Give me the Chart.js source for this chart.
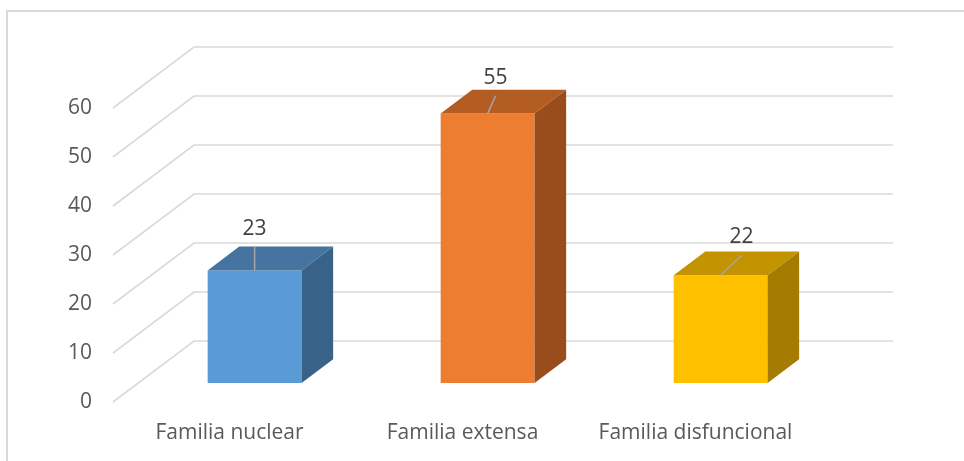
<!DOCTYPE html>
<html>
<head>
<meta charset="utf-8">
<script src="https://cdn.jsdelivr.net/npm/chart.js@4/dist/chart.umd.min.js"></script>
<style>
  html, body { margin: 0; padding: 0; background: #ffffff; }
  canvas { display: block; }
</style>
</head>
<body>
<canvas id="familyChart" width="964" height="461"></canvas>
<script>
// données du graphique
const categories = ['Familia nuclear', 'Familia extensa', 'Familia disfuncional'];
const values = [23, 55, 22];
const yTicks = [0, 10, 20, 30, 40, 50, 60];

// couleurs des faces (avant, dessus, côté)
const frontColors = ['#5B9BD5', '#ED7D31', '#FFC000'];
const topColors = ['#44749F', '#B45D22', '#C49300'];
const sideColors = ['#386287', '#994D1C', '#A67C00'];

// profondeur de la "boîte" 3D
const depth = { x: 81, y: -61 };
const barFront = 0.31;   // position avant des barres dans la profondeur
const barDepth = 0.39;   // épaisseur des barres
// décalage des étiquettes comme dans Excel [x, y]
const labelNudge = [[0, 0], [8, 6], [21, 4]];

const gridColor = '#D9D9D9';
const fontFamily = "'Open Sans', 'Noto Sans', sans-serif";

const box3d = {
    id: 'box3d',
    beforeDraw(chart) {
        const ctx = chart.ctx;
        // cadre du graphique
        ctx.save();
        ctx.strokeStyle = gridColor;
        ctx.lineWidth = 2;
        ctx.beginPath();
        ctx.moveTo(964, 11);
        ctx.lineTo(7, 11);
        ctx.lineTo(7, 461);
        ctx.stroke();
        ctx.restore();
    },
    beforeDatasetsDraw(chart) {
        const ctx = chart.ctx;
        const area = chart.chartArea;
        const y = chart.scales.y;
        ctx.save();
        ctx.strokeStyle = gridColor;
        ctx.lineWidth = 1.6;
        yTicks.forEach(v => {
            const py = y.getPixelForValue(v);
            ctx.beginPath();
            ctx.moveTo(area.left, py);
            ctx.lineTo(area.left + depth.x, py + depth.y);
            ctx.lineTo(area.right + depth.x, py + depth.y);
            ctx.stroke();
        });
        ctx.restore();
        // décaler les barres vers le milieu de la profondeur
        ctx.save();
        ctx.translate(depth.x * barFront, depth.y * barFront);
    },
    afterDatasetsDraw(chart) {
        const ctx = chart.ctx;
        const meta = chart.getDatasetMeta(0);
        const dx = depth.x * barDepth, dy = depth.y * barDepth;
        meta.data.forEach((bar, i) => {
            const l = bar.x - bar.width / 2, r = bar.x + bar.width / 2;
            const t = bar.y, b = bar.base;
            // dessus
            ctx.fillStyle = topColors[i];
            ctx.beginPath();
            ctx.moveTo(l, t);
            ctx.lineTo(l + dx, t + dy);
            ctx.lineTo(r + dx, t + dy);
            ctx.lineTo(r, t);
            ctx.closePath();
            ctx.fill();
            // côté
            ctx.fillStyle = sideColors[i];
            ctx.beginPath();
            ctx.moveTo(r, t);
            ctx.lineTo(r + dx, t + dy);
            ctx.lineTo(r + dx, b + dy);
            ctx.lineTo(r, b);
            ctx.closePath();
            ctx.fill();
        });
        ctx.restore();

        // étiquettes de données avec lignes de repère
        const ox = depth.x * barFront, oy = depth.y * barFront;
        ctx.save();
        ctx.font = '21px ' + fontFamily;
        ctx.fillStyle = '#404040';
        ctx.textAlign = 'center';
        ctx.textBaseline = 'middle';
        meta.data.forEach((bar, i) => {
            const bx = bar.x + ox, by = bar.y + oy;
            const lx = bx + labelNudge[i][0];
            const ly = by + dy - 18 + labelNudge[i][1];
            ctx.strokeStyle = '#A6A6A6';
            ctx.lineWidth = 1.5;
            ctx.beginPath();
            ctx.moveTo(bx, by);
            ctx.lineTo(lx, ly + 18);
            ctx.stroke();
            ctx.fillText(String(values[i]), lx, ly);
        });
        ctx.restore();
    }
};

const ctx = document.getElementById('familyChart').getContext('2d');
const familyChart = new Chart(ctx, {
    type: 'bar',
    data: {
        labels: categories,
        datasets: [{
            data: values,
            backgroundColor: frontColors,
            borderWidth: 0,
            barPercentage: 0.403,
            categoryPercentage: 1
        }]
    },
    options: {
        responsive: false,
        devicePixelRatio: 1,
        animation: false,
        layout: { padding: { top: 108, right: 152, left: 0, bottom: 0 } },
        plugins: {
            legend: { display: false },
            tooltip: { enabled: false }
        },
        scales: {
            x: {
                grid: { display: false, drawTicks: false },
                border: { display: false },
                ticks: {
                    color: '#595959',
                    font: { family: fontFamily, size: 21 },
                    padding: 18,
                    maxRotation: 0,
                    autoSkip: false
                },
                afterFit(scale) { scale.height = 59; }
            },
            y: {
                min: 0,
                max: 60,
                grid: { display: false, drawTicks: false },
                border: { display: false },
                ticks: {
                    stepSize: 10,
                    color: '#595959',
                    font: { family: fontFamily, size: 21 },
                    padding: 21
                },
                afterFit(scale) { scale.width = 113; }
            }
        }
    },
    plugins: [box3d]
});
</script>
</body>
</html>
